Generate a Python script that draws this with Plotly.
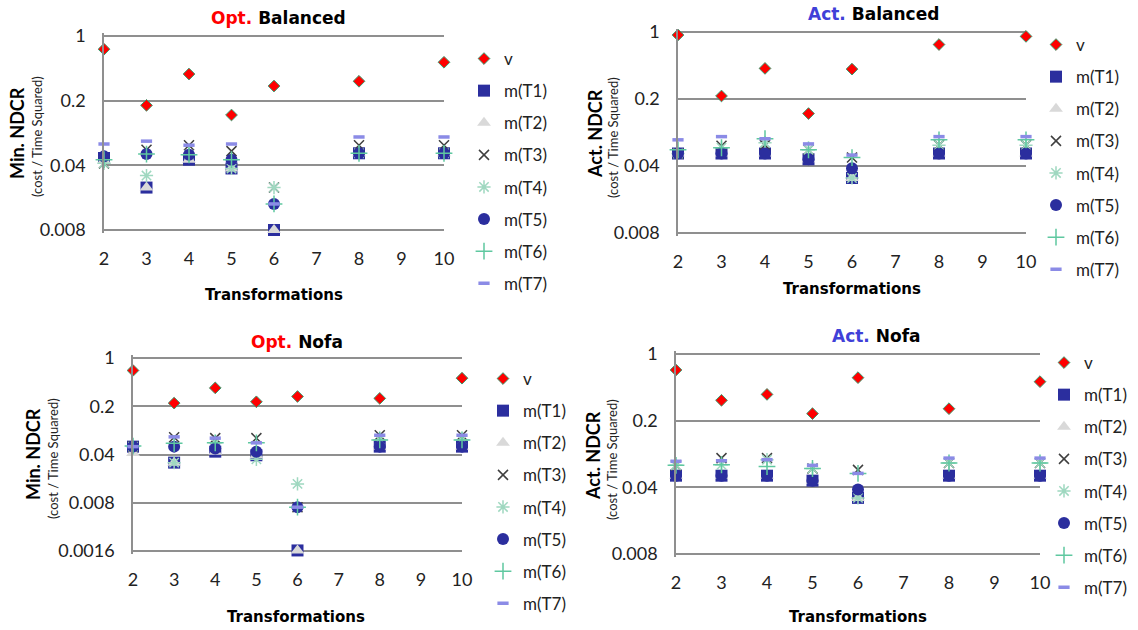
import math
import plotly.graph_objects as go

W, H = 1138, 630

# ---- data -------------------------------------------------------------
transformations = [2, 3, 4, 5, 6, 8, 10]
x_tick_values = [2, 3, 4, 5, 6, 7, 8, 9, 10]
series_names = ["v", "m(T1)", "m(T2)", "m(T3)", "m(T4)", "m(T5)", "m(T6)", "m(T7)"]

# Opt. Balanced (Min. NDCR)
opt_bal_v = [0.72, 0.178, 0.388, 0.14, 0.288, 0.324, 0.52]
opt_bal_t1 = [0.048, 0.023, 0.046, 0.037, 0.008, 0.054, 0.054]
opt_bal_t2 = [0.045, 0.023, 0.046, 0.037, 0.008, 0.054, 0.054]
opt_bal_t3 = [0.042, 0.059, 0.066, 0.057, 0.023, 0.066, 0.066]
opt_bal_t4 = [0.042, 0.031, 0.052, 0.037, 0.023, 0.054, 0.054]
opt_bal_t5 = [0.050, 0.053, 0.052, 0.046, 0.0153, 0.054, 0.054]
opt_bal_t6 = [0.046, 0.053, 0.052, 0.046, 0.0153, 0.054, 0.054]
opt_bal_t7 = [0.068, 0.073, 0.066, 0.068, 0.0153, 0.081, 0.081]

# Act. Balanced (Act. NDCR)
act_bal_v = [0.93, 0.215, 0.417, 0.141, 0.41, 0.74, 0.90]
act_bal_t1 = [0.054, 0.054, 0.054, 0.047, 0.030, 0.054, 0.054]
act_bal_t2 = [0.054, 0.054, 0.054, 0.047, 0.030, 0.054, 0.054]
act_bal_t3 = [0.054, 0.065, 0.066, 0.059, 0.049, 0.066, 0.066]
act_bal_t4 = [0.054, 0.062, 0.070, 0.059, 0.030, 0.066, 0.066]
act_bal_t5 = [0.054, 0.054, 0.054, 0.047, 0.038, 0.054, 0.054]
act_bal_t6 = [0.059, 0.062, 0.077, 0.059, 0.049, 0.075, 0.075]
act_bal_t7 = [0.075, 0.081, 0.077, 0.068, 0.052, 0.081, 0.081]

# Opt. Nofa (Min. NDCR)
opt_nofa_v = [0.66, 0.222, 0.369, 0.232, 0.277, 0.26, 0.51]
opt_nofa_t1 = [0.052, 0.0305, 0.044, 0.039, 0.00163, 0.052, 0.052]
opt_nofa_t2 = [0.042, 0.0305, 0.044, 0.039, 0.00163, 0.052, 0.052]
opt_nofa_t3 = [0.052, 0.071, 0.069, 0.069, 0.0069, 0.076, 0.076]
opt_nofa_t4 = [0.052, 0.0305, 0.059, 0.034, 0.015, 0.065, 0.065]
opt_nofa_t5 = [0.052, 0.052, 0.049, 0.044, 0.0069, 0.052, 0.052]
opt_nofa_t6 = [0.053, 0.058, 0.059, 0.059, 0.0069, 0.065, 0.065]
opt_nofa_t7 = [0.052, 0.072, 0.069, 0.059, 0.0069, 0.076, 0.076]

# Act. Nofa (Act. NDCR)
act_nofa_v = [0.68, 0.327, 0.377, 0.237, 0.565, 0.267, 0.513]
act_nofa_t1 = [0.053, 0.053, 0.053, 0.047, 0.031, 0.053, 0.053]
act_nofa_t2 = [0.053, 0.053, 0.053, 0.047, 0.031, 0.053, 0.053]
act_nofa_t3 = [0.068, 0.081, 0.081, 0.063, 0.061, 0.072, 0.072]
act_nofa_t4 = [0.068, 0.069, 0.078, 0.063, 0.031, 0.072, 0.072]
act_nofa_t5 = [0.053, 0.053, 0.053, 0.047, 0.038, 0.053, 0.053]
act_nofa_t6 = [0.068, 0.069, 0.066, 0.063, 0.056, 0.072, 0.072]
act_nofa_t7 = [0.075, 0.076, 0.078, 0.068, 0.056, 0.081, 0.081]

ticks_main = [0.008, 0.04, 0.2, 1]
ticks_main_text = ["0.008", "0.04", "0.2", "1"]
ticks_deep = [0.0016, 0.008, 0.04, 0.2, 1]
ticks_deep_text = ["0.0016", "0.008", "0.04", "0.2", "1"]

# ---- styling ----------------------------------------------------------
BLUE = "#2b2e9e"
marker_styles = [
    dict(symbol="diamond", size=9, color="#ff0000", line=dict(color="#3a9a6e", width=1)),
    dict(symbol="square", size=12, color=BLUE, line=dict(width=0)),
    dict(symbol="triangle-up", size=12, color="#d9d9d9", line=dict(width=0)),
    dict(symbol="x-thin-open", size=10, color="#3f3f3f", line=dict(color="#3f3f3f", width=1.5)),
    dict(symbol="asterisk-open", size=11, color="#9fd8c0", line=dict(color="#9fd8c0", width=1.5)),
    dict(symbol="circle", size=12, color=BLUE, line=dict(width=0)),
    dict(symbol="cross-thin-open", size=12, color="#5fc8a0", line=dict(color="#5fc8a0", width=1.5)),
    dict(symbol="line-ew-open", size=8, color="#8b8be6", line=dict(color="#8b8be6", width=3.5)),
]

SANS = "Lato, Open Sans, sans-serif"
TICK_FONT = dict(family=SANS, size=18, color="#222222")
BOLD_FONT = "DejaVu Sans, Verdana, sans-serif"
GRID = "#8f8f8f"
PAD = 3  # extra pixels so the end gridlines stay inside the plot area


def fx(px):
    return px / W


def fy(py):
    return 1 - py / H


panels = [
    dict(series=[opt_bal_v, opt_bal_t1, opt_bal_t2, opt_bal_t3, opt_bal_t4, opt_bal_t5, opt_bal_t6, opt_bal_t7],
         box=(104, 444, 36, 230), ticks=ticks_main, ticktext=ticks_main_text,
         head="Opt.", head_color="#ff0000", tail="Balanced", title_xy=(278, 18),
         ytitle="Min. NDCR", ytitle_xy=(17, 133), ysub_xy=(37, 137), xtitle_xy=(274, 295),
         legend_xy=(464, 41)),
    dict(series=[act_bal_v, act_bal_t1, act_bal_t2, act_bal_t3, act_bal_t4, act_bal_t5, act_bal_t6, act_bal_t7],
         box=(678, 1026, 32, 233), ticks=ticks_main, ticktext=ticks_main_text,
         head="Act.", head_color="#4040d8", tail="Balanced", title_xy=(873, 14),
         ytitle="Act. NDCR", ytitle_xy=(595, 133), ysub_xy=(613, 138), xtitle_xy=(852, 289),
         legend_xy=(1036, 27)),
    dict(series=[opt_nofa_v, opt_nofa_t1, opt_nofa_t2, opt_nofa_t3, opt_nofa_t4, opt_nofa_t5, opt_nofa_t6, opt_nofa_t7],
         box=(133, 462, 358, 551), ticks=ticks_deep, ticktext=ticks_deep_text,
         head="Opt.", head_color="#ff0000", tail="Nofa", title_xy=(297, 342),
         ytitle="Min. NDCR", ytitle_xy=(33, 454), ysub_xy=(53, 459), xtitle_xy=(296, 617),
         legend_xy=(483, 361)),
    dict(series=[act_nofa_v, act_nofa_t1, act_nofa_t2, act_nofa_t3, act_nofa_t4, act_nofa_t5, act_nofa_t6, act_nofa_t7],
         box=(676, 1040, 354, 554), ticks=ticks_main, ticktext=ticks_main_text,
         head="Act.", head_color="#4040d8", tail="Nofa", title_xy=(876, 336),
         ytitle="Act. NDCR", ytitle_xy=(593, 456), ysub_xy=(612, 460), xtitle_xy=(858, 617),
         legend_xy=(1044, 345)),
]

fig = go.Figure()
layout = dict(
    width=W, height=H,
    margin=dict(l=0, r=0, t=0, b=0, autoexpand=False),
    paper_bgcolor="white", plot_bgcolor="white",
    annotations=[],
)

for i, p in enumerate(panels, start=1):
    sfx = "" if i == 1 else str(i)
    legend_id = "legend" + sfx
    for name, values, style in zip(series_names, p["series"], marker_styles):
        fig.add_trace(go.Scatter(
            x=transformations, y=values, name=name, mode="markers",
            marker=style, cliponaxis=False,
            xaxis="x" + sfx, yaxis="y" + sfx,
            legend=legend_id, legendgroup=f"{legend_id}-{name}",
            showlegend=True,
        ))

    x0, x1, y0, y1 = p["box"]
    lo = math.log10(min(p["ticks"]))
    px_per_log = (y1 - y0) / (0 - lo)
    eps = PAD / px_per_log
    layout["xaxis" + sfx] = dict(
        domain=[fx(x0), fx(x1)], anchor="y" + sfx,
        range=[2, 10], tickvals=x_tick_values,
        showgrid=False, zeroline=False, showline=False, ticks="",
        ticklabelstandoff=10 + PAD, tickfont=TICK_FONT, fixedrange=True,
    )
    layout["yaxis" + sfx] = dict(
        domain=[fy(y1 + PAD), fy(y0 - PAD)], anchor="x" + sfx, type="log",
        range=[lo - eps, eps], tickvals=p["ticks"], ticktext=p["ticktext"],
        showgrid=True, gridcolor=GRID, gridwidth=1.5,
        showline=True, linecolor=GRID, linewidth=1.5, ticks="",
        ticklabelstandoff=13, tickfont=TICK_FONT, zeroline=False, fixedrange=True,
    )
    lx, ly = p["legend_xy"]
    layout[legend_id] = dict(
        x=fx(lx), y=fy(ly), xanchor="left", yanchor="top",
        font=dict(family=SANS, size=17, color="#222222"),
        bgcolor="rgba(0,0,0,0)", tracegroupgap=7, itemwidth=30,
    )

    tx, ty = p["title_xy"]
    layout["annotations"].append(dict(
        x=fx(tx), y=fy(ty), xref="paper", yref="paper", showarrow=False,
        xanchor="center", yanchor="middle",
        text=f"<b><span style='color:{p['head_color']}'>{p['head']}</span> {p['tail']}</b>",
        font=dict(family=BOLD_FONT, size=17, color="#000000"),
    ))
    ax, ay = p["ytitle_xy"]
    layout["annotations"].append(dict(
        x=fx(ax), y=fy(ay), xref="paper", yref="paper", showarrow=False,
        xanchor="center", yanchor="middle", textangle=-90,
        text=f"<b>{p['ytitle']}</b>",
        font=dict(family=SANS, size=18, color="#000000"),
    ))
    sx, sy = p["ysub_xy"]
    layout["annotations"].append(dict(
        x=fx(sx), y=fy(sy), xref="paper", yref="paper", showarrow=False,
        xanchor="center", yanchor="middle", textangle=-90,
        text="(cost / Time Squared)",
        font=dict(family=SANS, size=13, color="#222222"),
    ))
    bx, by = p["xtitle_xy"]
    layout["annotations"].append(dict(
        x=fx(bx), y=fy(by), xref="paper", yref="paper", showarrow=False,
        xanchor="center", yanchor="middle",
        text="<b>Transformations</b>",
        font=dict(family=BOLD_FONT, size=15, color="#000000"),
    ))

fig.update_layout(**layout)
fig.write_html("out.html")
